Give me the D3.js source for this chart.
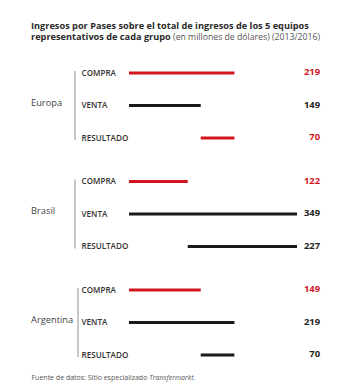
<!DOCTYPE html>
<html>
<head>
<meta charset="utf-8">
<script src="https://cdn.jsdelivr.net/npm/d3@7"></script>
<style>
  html, body { margin: 0; padding: 0; background: #fff; }
  svg { display: block; font-family: "Open Sans", sans-serif; }
</style>
</head>
<body>
<svg id="chart" width="350" height="390"></svg>
<script>
// Transfer income per group (millions of USD, 2013/2016)
const groups = ["Europa", "Brasil", "Argentina"];
const rows = ["COMPRA", "VENTA", "RESULTADO"];
const compra = [219, 122, 149];
const venta = [149, 349, 219];

const RED = "#d2141c";
const BLACK = "#1a1a1a";
const GREY_TEXT = "#444";

const svg = d3.select("#chart");

// Title
svg.append("text").attr("x", 31).attr("y", 28.5)
  .attr("font-size", 9.2).attr("font-weight", 700).attr("fill", "#2a2a2a")
  .text("Ingresos por Pases sobre el total de ingresos de los 5 equipos");
const t2 = svg.append("text").attr("x", 31).attr("y", 40)
  .attr("font-size", 9.2).attr("fill", "#2a2a2a");
t2.append("tspan").attr("font-weight", 700).text("representativos de cada grupo");
t2.append("tspan").attr("fill", "#555").attr("font-size", 8.7)
  .text(" (en millones de dólares) (2013/2016)");

// Scales
const x = d3.scaleLinear().domain([0, d3.max(venta.concat(compra))]).range([129, 297]);
const gy = d3.scalePoint().domain(groups).range([73, 290]);
const ry = d3.scalePoint().domain(rows).range([0, 65]);

const data = groups.map((g, i) => {
  const c = compra[i], v = venta[i];
  return {
    group: g,
    rows: [
      { key: "COMPRA", x0: 0, x1: c, value: c, color: RED },
      { key: "VENTA", x0: 0, x1: v, value: v, color: BLACK },
      { key: "RESULTADO", x0: Math.min(c, v), x1: Math.max(c, v),
        value: Math.abs(v - c), color: v - c < 0 ? RED : BLACK }
    ]
  };
});

const g = svg.selectAll("g.group").data(data).join("g")
  .attr("class", "group")
  .attr("transform", d => `translate(0,${gy(d.group)})`);

// Group name
g.append("text")
  .attr("x", 31).attr("y", ry("VENTA") - 3)
  .attr("dy", "0.35em")
  .attr("font-size", 9.3).attr("fill", GREY_TEXT)
  .text(d => d.group);

// Bracket line
g.append("line")
  .attr("x1", d => d.group === "Argentina" ? 78 : 75)
  .attr("x2", d => d.group === "Argentina" ? 78 : 75)
  .attr("y1", ry("COMPRA") - 2)
  .attr("y2", ry("RESULTADO") + 2)
  .attr("stroke", "#aaa").attr("stroke-width", 1.3);

const r = g.selectAll("g.row").data(d => d.rows).join("g")
  .attr("class", "row")
  .attr("transform", d => `translate(0,${ry(d.key)})`);

r.append("text")
  .attr("x", 81.5).attr("dy", "0.35em")
  .attr("font-size", 8.1).attr("font-weight", 600)
  .attr("fill", "#333")
  .text(d => d.key);

r.append("line")
  .attr("x1", d => x(d.x0)).attr("x2", d => x(d.x1))
  .attr("stroke", d => d.color).attr("stroke-width", 3);

r.append("text")
  .attr("x", 320).attr("y", -1).attr("dy", "0.35em")
  .attr("text-anchor", "end")
  .attr("font-size", 9.4).attr("font-weight", 700)
  .attr("fill", d => d.color === RED ? RED : "#222")
  .text(d => d.value);

// Source
const src = svg.append("text").attr("x", 31.5).attr("y", 379.5)
  .attr("font-size", 7.0).attr("fill", "#555");
src.append("tspan").text("Fuente de datos: Sitio especializado ");
src.append("tspan").attr("font-style", "italic").text("Transfermarkt.");
</script>
</body>
</html>
